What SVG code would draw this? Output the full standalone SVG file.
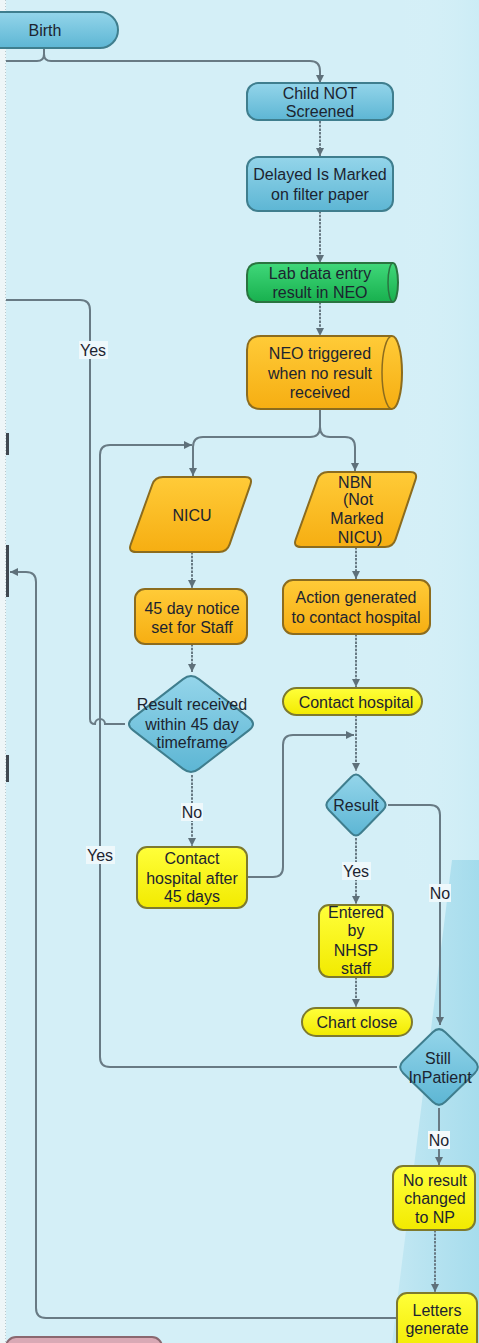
<svg xmlns="http://www.w3.org/2000/svg" width="479" height="1343" viewBox="0 0 479 1343">
<style>
text{font-family:"Liberation Sans",Arial,sans-serif;font-size:16px;fill:#1c2430;text-anchor:middle;dominant-baseline:central}
.c{fill:none;stroke:#687a84;stroke-width:2}
.d{stroke-dasharray:2.5 1.2}
.blue{fill:url(#gBlue);stroke:#3f7e8e;stroke-width:2}
.yel{fill:url(#gYel);stroke:#7e7a2e;stroke-width:2}
.org{fill:url(#gOrg);stroke:#8c6c1e;stroke-width:2}
.grn{fill:url(#gGrn);stroke:#2a7440;stroke-width:2}
.lbl{fill:#eef8fb}
</style>
<defs>
<linearGradient id="gBlue" x1="0" y1="0" x2="0" y2="1"><stop offset="0" stop-color="#94d5ea"/><stop offset="1" stop-color="#5db6d4"/></linearGradient>
<linearGradient id="gYel" x1="0" y1="0" x2="0" y2="1"><stop offset="0" stop-color="#ffff3a"/><stop offset="1" stop-color="#f2ea00"/></linearGradient>
<linearGradient id="gOrg" x1="0" y1="0" x2="0" y2="1"><stop offset="0" stop-color="#ffcb38"/><stop offset="1" stop-color="#f6ae12"/></linearGradient>
<linearGradient id="gGrn" x1="0" y1="0" x2="0" y2="1"><stop offset="0" stop-color="#40d87a"/><stop offset="1" stop-color="#18b04e"/></linearGradient>
<linearGradient id="gRay" x1="0" y1="0" x2="1" y2="0"><stop offset="0" stop-color="#b8e3f0"/><stop offset="1" stop-color="#88d0e6"/></linearGradient>
<linearGradient id="gBand" x1="0" y1="0" x2="1" y2="0"><stop offset="0" stop-color="#dcf3f9" stop-opacity="0"/><stop offset="1" stop-color="#c6eaf4"/></linearGradient>
<marker id="arr" markerUnits="userSpaceOnUse" markerWidth="9" markerHeight="9" refX="8" refY="4.5" orient="auto"><path d="M0,0.5 L8,4.5 L0,8.5 z" fill="#5e707a"/></marker>
</defs>
<rect x="0" y="0" width="479" height="1343" fill="#d4eff7"/>
<rect x="400" y="0" width="79" height="880" fill="url(#gBand)" opacity="0.6"/>
<polygon points="452,860 479,860 479,1343 392,1343" fill="url(#gRay)" opacity="0.6"/>
<rect x="0" y="0" width="6" height="1343" fill="#eef6f8"/>
<line x1="5.5" y1="0" x2="5.5" y2="1343" stroke="#b9c9cd" stroke-dasharray="1 2"/>
<rect x="6" y="433" width="3" height="22" fill="#404850"/>
<rect x="6" y="545" width="3" height="52" fill="#404850"/>
<rect x="6" y="755" width="3" height="27" fill="#404850"/>
<g id="offpage">
<rect x="6" y="1337" width="156" height="20" rx="10" fill="#d9a9b5" stroke="#8a6870" stroke-width="2"/>
</g>

<g id="connectors">
<path class="c" d="M44,48 V54 Q44,61 37,61 H6"/>
<path class="c" d="M44,54 Q44,61 51,61 H310 Q320,61 320,71 V83" marker-end="url(#arr)"/>
<path class="c d" d="M320,121 V156" marker-end="url(#arr)"/>
<path class="c d" d="M320,211 V263" marker-end="url(#arr)"/>
<path class="c d" d="M320,302 V336" marker-end="url(#arr)"/>
<path class="c" d="M320,409 V427 Q320,437 310,437 H203 Q193,437 193,447 V476" marker-end="url(#arr)"/>
<path class="c" d="M320,427 Q320,437 330,437 H345 Q355,437 355,447 V471" marker-end="url(#arr)"/>
<path class="c d" d="M192,552 V588" marker-end="url(#arr)"/>
<path class="c d" d="M192,644 V672" marker-end="url(#arr)"/>
<path class="c d" d="M192,775 V846" marker-end="url(#arr)"/>
<path class="c d" d="M356,547 V579" marker-end="url(#arr)"/>
<path class="c d" d="M356,634 V687" marker-end="url(#arr)"/>
<path class="c d" d="M356,715 V771" marker-end="url(#arr)"/>
<path class="c d" d="M356,838 V904" marker-end="url(#arr)"/>
<path class="c d" d="M356,977 V1007" marker-end="url(#arr)"/>
<path class="c" d="M388,805 H430 Q440,805 440,815 V1025" marker-end="url(#arr)"/>
<path class="c" d="M439,1108 V1165" marker-end="url(#arr)"/>
<path class="c d" d="M435,1230 V1292" marker-end="url(#arr)"/>
<path class="c" d="M247,877 H273 Q283,877 283,867 V745 Q283,735 293,735 H354" marker-end="url(#arr)"/>
<path class="c" d="M125,724 H105 A5,5 0 0 0 95,724 Q90,724 90,719 V310 Q90,300 80,300 H6"/>
<path class="c" d="M397,1067 H110 Q100,1067 100,1057 V455 Q100,445 110,445 H192" marker-end="url(#arr)"/>
<path class="c" d="M397,1318 H46 Q36,1318 36,1308 V582 Q36,572 26,572 H10" marker-end="url(#arr)"/>
<rect class="lbl" x="79" y="341" width="29" height="18"/><text x="93" y="350">Yes</text>
<rect class="lbl" x="86" y="846" width="29" height="18"/><text x="100" y="855">Yes</text>
<rect class="lbl" x="181" y="803" width="22" height="18"/><text x="192" y="812">No</text>
<rect class="lbl" x="342" y="862" width="29" height="18"/><text x="356" y="871">Yes</text>
<rect class="lbl" x="429" y="884" width="22" height="18"/><text x="440" y="893">No</text>
<rect x="428" y="1131" width="22" height="18" fill="#f4fafc"/><text x="439" y="1140">No</text>
</g>

<g id="birth"><rect class="blue" x="-20" y="12" width="138" height="36" rx="18"/><text x="45" y="30">Birth</text></g>
<g id="child-not-screened"><rect class="blue" x="247" y="83" width="146" height="37" rx="11"/><text x="320" y="93">Child NOT</text><text x="320" y="111">Screened</text></g>
<g id="delayed-marked"><rect class="blue" x="247" y="157" width="146" height="54" rx="11"/><text x="320" y="174">Delayed Is Marked</text><text x="320" y="194">on filter paper</text></g>
<g id="lab-data-entry"><path class="grn" d="M259,263 H393 A5,19.5 0 0 1 393,302 H259 Q247,302 247,290 V275 Q247,263 259,263 Z"/><path d="M393,263 A5,19.5 0 0 0 393,302" fill="none" stroke="#2a7440" stroke-width="1.5"/><text x="320" y="273">Lab data entry</text><text x="320" y="292">result in NEO</text></g>
<g id="neo-triggered"><path class="org" d="M261,336 H392 A10,36.5 0 0 1 392,409 H261 Q247,409 247,395 V350 Q247,336 261,336 Z"/><path d="M392,336 A10,36.5 0 0 0 392,409" fill="none" stroke="#8c6c1e" stroke-width="1.5"/><text x="320" y="353">NEO triggered</text><text x="320" y="373">when no result</text><text x="320" y="392">received</text></g>
<g id="nicu"><path class="org" d="M163,477 H245 Q253,477 250.4,484.6 L229.6,544.4 Q227,552 219,552 H136 Q128,552 130.7,544.5 L152.3,484.5 Q155,477 163,477 Z"/><text x="192" y="515">NICU</text></g>
<g id="nbn"><path class="org" d="M328,472 H410 Q418,472 415.5,479.6 L395.5,539.4 Q393,547 385,547 H301 Q293,547 295.7,539.5 L317.3,479.5 Q320,472 328,472 Z"/><text x="355" y="482">NBN</text><text x="358" y="499">(Not</text><text x="357" y="518">Marked</text><text x="360" y="537">NICU)</text></g>
<g id="notice-45"><rect class="org" x="135" y="589" width="112" height="55" rx="10"/><text x="192" y="608">45 day notice</text><text x="192" y="627">set for Staff</text></g>
<g id="action-generated"><rect class="org" x="283" y="580" width="147" height="54" rx="10"/><text x="356" y="597">Action generated</text><text x="356" y="617">to contact hospital</text></g>
<g id="contact-hospital"><rect class="yel" x="283" y="688" width="139" height="27" rx="13.5"/><text x="356" y="702">Contact hospital</text></g>
<g id="result-received"><path class="blue" d="M198.9,679.1 L249.1,717.9 Q257,724 249.1,730.1 L198.9,768.9 Q191,775 183.1,768.9 L132.9,730.1 Q125,724 132.9,717.9 L183.1,679.1 Q191,673 198.9,679.1 Z"/><text x="192" y="704">Result received</text><text x="192" y="724">within 45 day</text><text x="192" y="742">timeframe</text></g>
<g id="result"><path class="blue" d="M360.8,777 L383.2,800 Q388,805 383.2,810 L360.8,833 Q356,838 351.2,833 L328.8,810 Q324,805 328.8,800 L351.2,777 Q356,772 360.8,777 Z"/><text x="356" y="805">Result</text></g>
<g id="contact-after-45"><rect class="yel" x="137" y="847" width="110" height="61" rx="10"/><text x="192" y="858">Contact</text><text x="192" y="878">hospital after</text><text x="192" y="896">45 days</text></g>
<g id="entered-nhsp"><rect class="yel" x="319" y="905" width="74" height="72" rx="10"/><text x="356" y="912">Entered</text><text x="356" y="930">by</text><text x="356" y="950">NHSP</text><text x="356" y="968">staff</text></g>
<g id="chart-close"><rect class="yel" x="302" y="1008" width="110" height="28" rx="14"/><text x="357" y="1022">Chart close</text></g>
<g id="still-inpatient"><path class="blue" d="M445.3,1032.2 L474.7,1060.8 Q481,1067 474.7,1073.2 L445.3,1101.8 Q439,1108 432.7,1101.8 L403.3,1073.2 Q397,1067 403.3,1060.8 L432.7,1032.2 Q439,1026 445.3,1032.2 Z"/><text x="438" y="1058">Still</text><text x="440" y="1077">InPatient</text></g>
<g id="no-result-np"><rect class="yel" x="393" y="1166" width="82" height="64" rx="10"/><text x="435" y="1180">No result</text><text x="435" y="1198">changed</text><text x="435" y="1217">to NP</text></g>
<g id="letters-generate"><rect class="yel" x="397" y="1293" width="80" height="60" rx="10"/><text x="437" y="1310">Letters</text><text x="437" y="1328">generate</text></g>
</svg>
